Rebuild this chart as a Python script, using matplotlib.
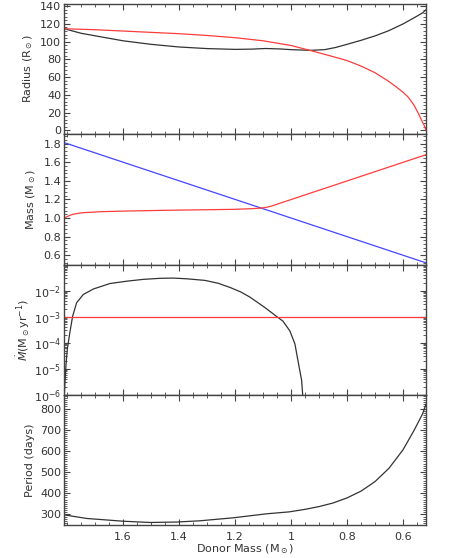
import numpy as np
import matplotlib
matplotlib.use("Agg")
import matplotlib.pyplot as plt
from matplotlib.ticker import MultipleLocator, FixedLocator, LogLocator, NullFormatter

# donor mass points (x axis, decreasing)
radius_m = [1.81, 1.75, 1.68, 1.6, 1.5, 1.4, 1.3, 1.2, 1.14, 1.09, 1.04, 1.0, 0.93, 0.88, 0.84,
            0.8, 0.75, 0.7, 0.65, 0.6, 0.56, 0.53, 0.518]
donor_radius = [114.6, 109.5, 105.5, 101, 97, 94, 92.2, 91.3, 91.6, 92.3, 91.8, 91, 90.2, 91,
                93.5, 97, 101.5, 106.5, 112.5, 120, 127, 132.5, 136]
roche_m = [1.81, 1.7, 1.6, 1.5, 1.4, 1.3, 1.2, 1.1, 1.0, 0.93, 0.86, 0.8, 0.75, 0.7, 0.68,
           0.65, 0.62, 0.6, 0.58, 0.56, 0.545, 0.533, 0.525, 0.518]
roche_radius = [114.6, 113.5, 112, 110.5, 109, 107, 104.5, 101, 95.7, 90, 84, 78.7, 72.5, 65, 61,
                55, 48, 43, 37, 28, 19, 11, 6, 0]

mass_m = [1.81, 0.518]
donor_mass = [1.81, 0.518]
acc_m = [1.81, 1.8, 1.79, 1.78, 1.76, 1.743, 1.68, 1.6, 1.444, 1.3, 1.206, 1.14, 1.111, 1.09,
         1.07, 1.05, 0.518]
accretor_mass = [1.0, 1.015, 1.028, 1.039, 1.05, 1.057, 1.068, 1.074, 1.083, 1.089, 1.093, 1.1,
                 1.106, 1.113, 1.128, 1.148, 1.68]

mdot_m = [1.811, 1.804, 1.799, 1.79, 1.78, 1.766, 1.742, 1.706, 1.647, 1.587, 1.528, 1.468,
          1.42, 1.37, 1.307, 1.26, 1.218, 1.18, 1.147, 1.1, 1.075, 1.051, 1.029, 1.004, 0.986,
          0.975, 0.962, 0.955]
log_mdot = [-6.2, -4.88, -4.24, -3.61, -2.98, -2.47, -2.15, -1.94, -1.73, -1.64, -1.57, -1.53,
            -1.52, -1.55, -1.61, -1.72, -1.88, -2.05, -2.25, -2.6, -2.8, -3.0, -3.17, -3.55,
            -4.05, -4.7, -5.45, -6.5]
mdot_limit = 1e-3

period_m = [1.81, 1.73, 1.6, 1.504, 1.41, 1.325, 1.207, 1.087, 1.007, 0.95, 0.9, 0.85, 0.8,
            0.75, 0.7, 0.65, 0.6, 0.56, 0.53, 0.518]
period = [298, 281, 268, 262, 264, 270, 284, 303, 312, 324, 337, 354, 378, 410, 455, 518, 605,
          698, 775, 820]

ink = '#333333'
red = '#ff3c3c'
blue = '#4646ff'

plt.rcParams['font.family'] = 'DejaVu Sans'
plt.rcParams['font.size'] = 8
plt.rcParams['mathtext.fontset'] = 'dejavusans'

fig, axes = plt.subplots(4, 1, sharex=True, figsize=(4.58, 5.58), dpi=100)
fig.subplots_adjust(left=0.1397, right=0.930, top=0.9928, bottom=0.0591, hspace=0)
ax1, ax2, ax3, ax4 = axes

ax1.plot(radius_m, donor_radius, color=ink, lw=0.9)
ax1.plot(roche_m, roche_radius, color=red, lw=0.9)
ax1.set_ylim(-4.5, 142.5)
ax1.yaxis.set_major_locator(MultipleLocator(20))
ax1.yaxis.set_minor_locator(MultipleLocator(4))
ax1.set_ylabel('Radius (R$_\\odot$)', labelpad=4)

ax2.plot(mass_m, donor_mass, color=blue, lw=0.9)
ax2.plot(acc_m, accretor_mass, color=red, lw=0.9)
ax2.set_ylim(0.5, 1.9)
ax2.yaxis.set_major_locator(FixedLocator([0.6, 0.8, 1.0, 1.2, 1.4, 1.6, 1.8]))
ax2.yaxis.set_minor_locator(MultipleLocator(0.04))
ax2.set_ylabel('Mass (M$_\\odot$)', labelpad=4)

ax3.plot(mdot_m, 10.0 ** np.array(log_mdot), color=ink, lw=0.9)
ax3.axhline(mdot_limit, color=red, lw=0.9)
ax3.set_yscale('log')
ax3.set_ylim(1e-6, 1e-1)
ax3.yaxis.set_major_locator(FixedLocator([1e-6, 1e-5, 1e-4, 1e-3, 1e-2]))
ax3.yaxis.set_minor_locator(LogLocator(base=10, subs=np.arange(2, 10)))
ax3.yaxis.set_minor_formatter(NullFormatter())
ax3.set_ylabel('$\\dot{M}$(M$_\\odot$yr$^{-1}$)', labelpad=1)

ax4.plot(period_m, period, color=ink, lw=0.9)
ax4.set_ylim(250, 865)
ax4.yaxis.set_major_locator(MultipleLocator(100))
ax4.yaxis.set_minor_locator(MultipleLocator(10))
ax4.set_ylabel('Period (days)', labelpad=4)
ax4.set_xlabel('Donor Mass (M$_\\odot$)', labelpad=0)

ax4.set_xlim(1.811, 0.518)
ax4.xaxis.set_major_locator(FixedLocator([1.6, 1.4, 1.2, 1.0, 0.8, 0.6]))
ax4.xaxis.set_minor_locator(MultipleLocator(0.05))
ax4.set_xticklabels(['1.6', '1.4', '1.2', '1', '0.8', '0.6'])

for ax in axes:
    for s in ax.spines.values():
        s.set_color('#444444')
        s.set_linewidth(1.0)
    ax.tick_params(which='both', direction='in', top=True, right=True, colors='#444444',
                   labelcolor='#333333')
    ax.tick_params(which='major', length=4.5, width=0.8)
    ax.tick_params(which='minor', length=2.2, width=0.6)
    ax.tick_params(axis='y', pad=2)
    ax.tick_params(axis='x', pad=5)
    ax.yaxis.label.set_color('#333333')
ax4.xaxis.label.set_color('#333333')

fig.savefig('out.png', dpi=100)
